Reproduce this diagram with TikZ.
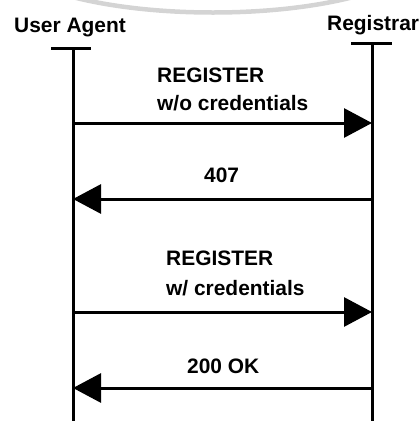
\documentclass[tikz,border=0pt]{standalone}
\usepackage{fontspec}
\setmainfont{Liberation Sans}
\usetikzlibrary{arrows.meta}
\begin{document}
\begin{tikzpicture}[x=1bp,y=-1bp,
  lbl/.style={font=\fontsize{21}{24}\selectfont\bfseries, inner sep=0pt, anchor=base west},
  life/.style={line width=3bp},
  msg/.style={line width=3bp, -{Triangle[length=28bp,width=29bp]}},
  tickbar/.style={line width=3bp}]
\useasboundingbox (0,0) rectangle (419,421);
\begin{scope}
\clip (0,0) rectangle (419,421);
\draw[black!17, line width=4.5bp] (213,-50) ellipse [x radius=213, y radius=62.5];
\end{scope}
% headers
\node[lbl] (ua) at (14,32) {User Agent};
\node[lbl] (rg) at (327,30) {Registrar};
% lifelines
\coordinate (uatop) at (73,48);
\coordinate (uabot) at (73,421);
\coordinate (rgtop) at (372,43);
\coordinate (rgbot) at (372,421);
\coordinate (uatl) at (51,48);
\coordinate (uatr) at (91,48);
\coordinate (rgtl) at (351,43);
\coordinate (rgtr) at (392,43);
\draw[tickbar] (uatl) -- (uatr);
\draw[tickbar] (rgtl) -- (rgtr);
\draw[life] (uatop) -- (uabot);
\draw[life] (rgtop) -- (rgbot);
% message anchors
\coordinate (u1) at (73,123); \coordinate (r1) at (372,123);
\coordinate (u2) at (73,199); \coordinate (r2) at (372,199);
\coordinate (u3) at (73,312); \coordinate (r3) at (372,312);
\coordinate (u4) at (73,388); \coordinate (r4) at (372,388);
\draw[msg] (u1) -- (r1);
\draw[msg] (r2) -- (u2);
\draw[msg] (u3) -- (r3);
\draw[msg] (r4) -- (u4);
% labels
\node[lbl] (m1a) at (157,82) {REGISTER};
\node[lbl] (m1b) at (157,110) {w/o credentials};
\node[lbl] (m2) at (204,182) {407};
\node[lbl] (m3a) at (166,265) {REGISTER};
\node[lbl] (m3b) at (166,295) {w/ credentials};
\node[lbl] (m4) at (187,373) {200 OK};
\end{tikzpicture}
\end{document}
